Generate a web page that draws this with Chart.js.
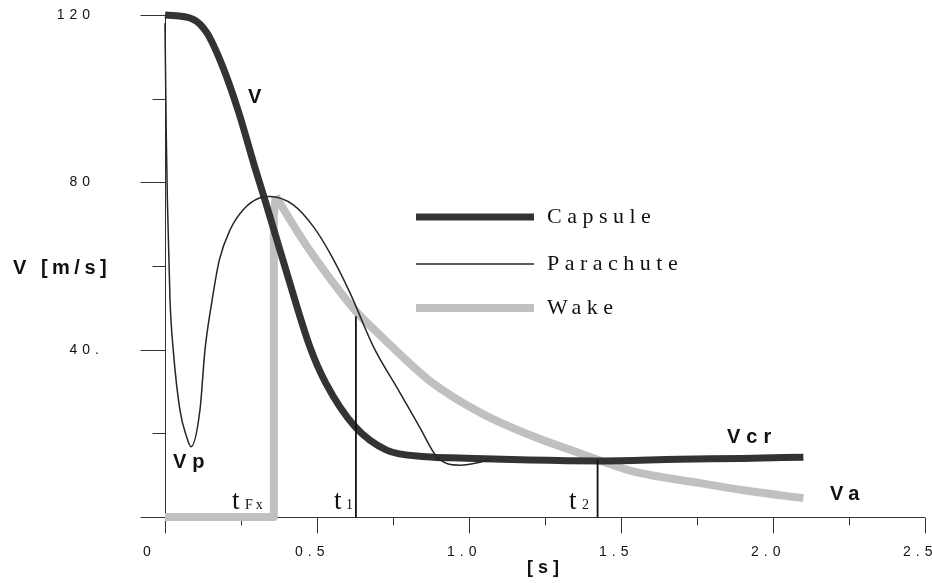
<!DOCTYPE html>
<html>
<head>
<meta charset="utf-8">
<title>Capsule / Parachute / Wake</title>
<script src="https://cdn.jsdelivr.net/npm/chart.js@4.4.1/dist/chart.umd.min.js"></script>
<style>
    html, body { margin: 0; padding: 0; background: #fff; }
    #grafik { display: block; }
</style>
</head>
<body>
<canvas id="grafik" width="932" height="583"></canvas>
<script>
// -------- DATA --------
const capsuleT = [0, 0.092, 0.138, 0.19, 0.24, 0.298, 0.332, 0.398, 0.477, 0.529, 0.625, 0.729, 0.86, 0.97, 1.2, 1.43, 1.69, 1.9, 2.1];
const capsuleV = [120, 119, 115.7, 107.6, 97.3, 83, 75, 59, 40.6, 32, 21.6, 16, 14.4, 14.1, 13.6, 13.4, 13.8, 14.0, 14.3];

const parachuteT = [0, 0.004, 0.0077, 0.0164, 0.027, 0.049, 0.071, 0.0855, 0.115, 0.1316, 0.1536, 0.1786, 0.2138, 0.2566, 0.3125, 0.345, 0.422, 0.488, 0.543, 0.609, 0.685, 0.773, 0.839, 0.894, 0.97, 1.069];
const parachuteV = [118, 92, 76, 52, 40, 25.6, 19.2, 16.8, 25.6, 40, 51.2, 61.4, 68.6, 73.4, 76.3, 76.6, 74.6, 69.4, 63, 53.5, 40.8, 29.7, 21.3, 14.4, 12.4, 13.6];

const wakeT = [0, 0.358, 0.358, 0.364, 0.455, 0.543, 0.63, 0.707, 0.872, 1.036, 1.2, 1.365, 1.423, 1.54, 1.76, 1.92, 2.1];
const wakeV = [0, 0, 72, 76.7, 66, 57, 49, 43.5, 32.5, 25, 19.6, 15.2, 13.7, 10.9, 8.1, 6.2, 4.5];

const markerT = [0.628, 1.423];
const markerTop = [48, 13.6];

const xTicks = [0, 0.25, 0.5, 0.75, 1.0, 1.25, 1.5, 1.75, 2.0, 2.25, 2.5];
const xTickLabels = ["0", "", "0.5", "", "1.0", "", "1.5", "", "2.0", "", "2.5"];
const yTicks = [0, 20, 40, 60, 80, 100, 120];
const yTickLabels = ["", "", "40.", "", "80", "", "120"];

const legendNames = ["Capsule", "Parachute", "Wake"];

const SANS = '"Liberation Sans", Arial, sans-serif';
const SERIF = '"Liberation Serif", "Times New Roman", serif';

const toPoints = (ts, vs) => ts.map((t, i) => ({ x: t, y: vs[i] }));

// -------- DATASETS --------
const datasets = [
    {
        label: "Parachute",
        data: toPoints(parachuteT, parachuteV),
        borderColor: "#262626",
        borderWidth: 1.5,
        cubicInterpolationMode: "monotone",
        order: 1
    },
    {
        label: "Capsule",
        data: toPoints(capsuleT, capsuleV),
        borderColor: "#333333",
        borderWidth: 7,
        cubicInterpolationMode: "monotone",
        order: 2
    },
    {
        label: "Wake",
        data: toPoints(wakeT.slice(3), wakeV.slice(3)),
        borderColor: "#c0c0c0",
        borderWidth: 8,
        cubicInterpolationMode: "monotone",
        order: 3
    },
    {
        label: "Wake step",
        data: toPoints(wakeT.slice(0, 4), wakeV.slice(0, 4)),
        borderColor: "#c0c0c0",
        borderWidth: 8,
        borderJoinStyle: "round",
        tension: 0,
        order: 3
    }
];
markerT.forEach((t, i) => {
    datasets.push({
        label: "t" + (i + 1),
        data: [{ x: t, y: 0 }, { x: t, y: markerTop[i] }],
        borderColor: "#111",
        borderWidth: 1.8,
        tension: 0,
        order: 0
    });
});

// -------- AXES (drawn from the chart scales) --------
const sumbu = {
    id: "sumbu",
    beforeDatasetsDraw(chart) {
        const { ctx, scales: { x, y } } = chart;
        const x0 = Math.round(x.getPixelForValue(0)) + 0.5;
        const y0 = Math.round(y.getPixelForValue(0)) + 0.5;
        ctx.save();
        ctx.strokeStyle = "#333";
        ctx.lineWidth = 1;
        ctx.beginPath();
        ctx.moveTo(x0, y.getPixelForValue(120));
        ctx.lineTo(x0, y0);
        ctx.moveTo(x0, y0);
        ctx.lineTo(x.getPixelForValue(2.5), y0);
        yTicks.forEach(v => {
            const py = Math.round(y.getPixelForValue(v)) + 0.5;
            const len = v % 40 === 0 ? 25 : 13;
            ctx.moveTo(x0 - len, py);
            ctx.lineTo(x0, py);
        });
        xTicks.forEach((v, i) => {
            const px = Math.round(x.getPixelForValue(v)) + 0.5;
            const len = i % 2 === 0 ? 16 : 8;
            ctx.moveTo(px, y0);
            ctx.lineTo(px, y0 + len);
        });
        ctx.stroke();
        ctx.restore();
    },
    afterDraw(chart) {
        const { ctx, scales: { x, y } } = chart;
        ctx.save();
        ctx.fillStyle = "#111";

        // tick labels
        ctx.font = "14px " + SANS;
        ctx.letterSpacing = "5px";
        ctx.textBaseline = "middle";
        ctx.textAlign = "left";
        yTickLabels.forEach((lbl, i) => {
            if (!lbl) return;
            const num = lbl.replace(/\.$/, "");
            const w = ctx.measureText(num).width - 5;
            ctx.fillText(lbl, 90 - w, y.getPixelForValue(yTicks[i]));
        });
        xTickLabels.forEach((lbl, i) => {
            if (!lbl) return;
            ctx.fillText(lbl, x.getPixelForValue(xTicks[i]) - 22, 552);
        });

        // axis titles
        ctx.font = "bold 20px " + SANS;
        ctx.letterSpacing = "4.5px";
        ctx.fillText("V [m/s]", 13, 268);
        ctx.font = "bold 18px " + SANS;
        ctx.letterSpacing = "5px";
        ctx.fillText("[s]", 527, 568);

        // curve labels
        ctx.textBaseline = "alphabetic";
        ctx.font = "bold 20px " + SANS;
        ctx.letterSpacing = "6px";
        ctx.fillText("V", 248, 103);
        ctx.fillText("Vp", 173, 468);
        ctx.fillText("Vcr", 727, 443);
        ctx.fillText("Va", 830, 500);

        // time marks
        const tLabel = (sub, tx, subx) => {
            ctx.font = "27px " + SERIF;
            ctx.letterSpacing = "0px";
            ctx.fillText("t", tx, 509);
            ctx.font = "14px " + SERIF;
            ctx.letterSpacing = "3px";
            ctx.fillText(sub, subx, 509);
        };
        tLabel("Fx", 232, 245);
        tLabel("1", 334, 346);
        tLabel("2", 569, 582);

        // legend
        const legendY = [217, 264, 308];
        legendNames.forEach((name, i) => {
            const ds = chart.data.datasets.find(d => d.label === name);
            ctx.strokeStyle = ds.borderColor;
            ctx.lineWidth = ds.borderWidth;
            ctx.beginPath();
            ctx.moveTo(416, legendY[i]);
            ctx.lineTo(534, legendY[i]);
            ctx.stroke();
            ctx.font = "22px " + SERIF;
            ctx.letterSpacing = "5.5px";
            ctx.textBaseline = "middle";
            ctx.fillText(name, 547, legendY[i]);
        });
        ctx.restore();
    }
};

// -------- CHART --------
new Chart(document.getElementById("grafik"), {
    type: "scatter",
    data: { datasets },
    options: {
        responsive: false,
        devicePixelRatio: 1,
        animation: false,
        events: [],
        showLine: true,
        layout: { padding: { left: 165, right: 7, top: 15, bottom: 66 } },
        elements: {
            point: { radius: 0 },
            line: { fill: false, borderCapStyle: "butt", capBezierPoints: true }
        },
        datasets: { scatter: { clip: false } },
        plugins: { legend: { display: false }, tooltip: { enabled: false } },
        scales: {
            x: { type: "linear", min: 0, max: 2.5, display: false },
            y: { type: "linear", min: 0, max: 120, display: false }
        }
    },
    plugins: [sumbu]
});
</script>
</body>
</html>
